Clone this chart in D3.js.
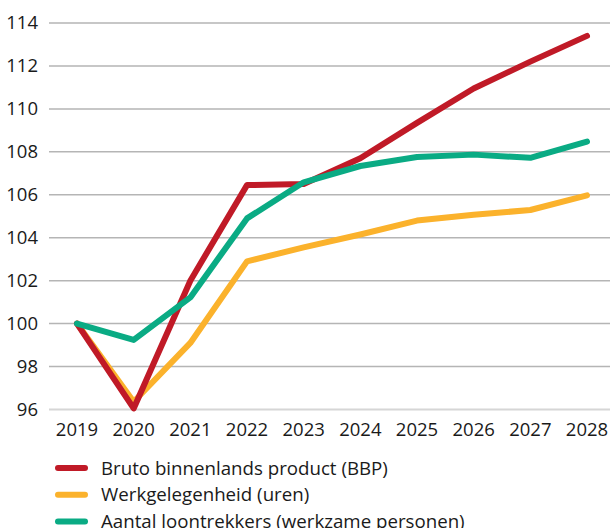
<!DOCTYPE html>
<html><head><meta charset="utf-8">
<script src="https://cdn.jsdelivr.net/npm/d3@7"></script>
<style>body{margin:0;background:#fff;}svg{display:block;font-family:"Open Sans",sans-serif;}</style>
</head><body>
<script>
const years = [2019,2020,2021,2022,2023,2024,2025,2026,2027,2028];
const bbp = [100,96.05,102.0,106.45,106.5,107.7,109.35,110.95,112.2,113.4];
const werk = [100,96.36,99.1,102.9,103.55,104.15,104.8,105.07,105.29,105.97];
const loon = [100,99.24,101.22,104.9,106.58,107.34,107.76,107.87,107.72,108.48];
const yTicks = [96,98,100,102,104,106,108,110,112,114];
const seriesNames = ["Bruto binnenlands product (BBP)","Werkgelegenheid (uren)","Aantal loontrekkers (werkzame personen)"];
const colors = ["#c01a27","#fbb22c","#0aab84"];

const W=610,H=528;
const svg=d3.select("body").append("svg").attr("width",W).attr("height",H);
const x=d3.scalePoint().domain(years).range([77,587]);
const y=d3.scaleLinear().domain([96,114]).range([409.5,23]);

const grid=svg.append("g");
grid.selectAll("line").data(yTicks).join("line")
 .attr("x1",49).attr("x2",W).attr("y1",d=>y(d)).attr("y2",d=>y(d))
 .attr("stroke",d=>d===96?"#d6d6d6":"#b5b5b5").attr("stroke-width",d=>d===96?2:1.5);
svg.append("g").selectAll("text").data(yTicks).join("text")
 .attr("x",38).attr("y",d=>y(d)).attr("dy","0.35em").attr("text-anchor","end")
 .attr("font-size",18.5).attr("fill","#1a1a1a").text(d=>d);
svg.append("g").selectAll("text").data(years).join("text")
 .attr("x",d=>x(d)).attr("y",436).attr("text-anchor","middle")
 .attr("font-size",18.5).attr("fill","#1a1a1a").text(d=>d);

const line=d3.line().x((d,i)=>x(years[i])).y(d=>y(d));
const order=[1,0,2];
order.forEach(i=>{
  const s=[bbp,werk,loon][i];
  svg.append("path").attr("d",line(s)).attr("fill","none").attr("stroke",colors[i])
   .attr("stroke-width",6).attr("stroke-linejoin","round").attr("stroke-linecap","round");
});

const leg=svg.append("g");
seriesNames.forEach((n,i)=>{
  const yy=468+i*26.7;
  leg.append("line").attr("x1",58).attr("x2",85).attr("y1",yy).attr("y2",yy)
   .attr("stroke",colors[i]).attr("stroke-width",6).attr("stroke-linecap","round");
  leg.append("text").attr("x",101).attr("y",yy).attr("dy","0.35em").attr("font-size",18.7)
   .attr("fill","#1a1a1a").text(n);
});
</script>
</body></html>
